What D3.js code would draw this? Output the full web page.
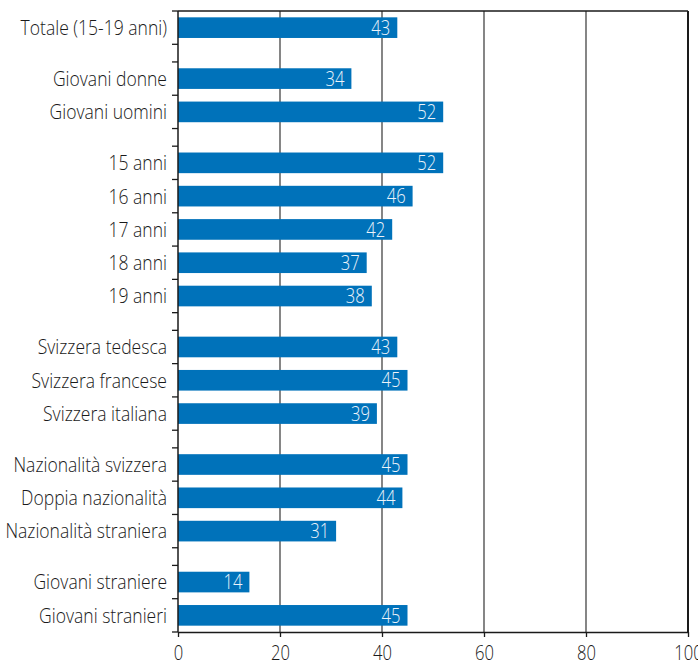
<!DOCTYPE html>
<html>
<head>
<meta charset="utf-8">
<script src="https://cdn.jsdelivr.net/npm/d3@7"></script>
<style>
  html, body { margin: 0; padding: 0; background: #fff; }
  svg { display: block; }
  text { font-family: "Open Sans", "Noto Sans", sans-serif; font-weight: 300; }
</style>
</head>
<body>
<svg id="chart" width="698" height="661"></svg>
<script>
// Categories in drawing order; empty strings are the spacer rows between groups
const categories = [
  "Totale (15-19 anni)", "",
  "Giovani donne", "Giovani uomini", "",
  "15 anni", "16 anni", "17 anni", "18 anni", "19 anni", "",
  "Svizzera tedesca", "Svizzera francese", "Svizzera italiana", "",
  "Nazionalità svizzera", "Doppia nazionalità", "Nazionalità straniera", "",
  "Giovani straniere", "Giovani stranieri"
];
const values = [
  43, null,
  34, 52, null,
  52, 46, 42, 37, 38, null,
  43, 45, 39, null,
  45, 44, 31, null,
  14, 45
];
const xTicks = [0, 20, 40, 60, 80, 100];

const margin = { top: 11, right: 10, bottom: 29, left: 178 };
const width = 698 - margin.left - margin.right;
const height = 661 - margin.top - margin.bottom;

// Narrow type: glyphs are drawn at full height and squeezed horizontally
const squeezeNum = 0.83;
const squeezeCat = 0.855;

const svg = d3.select("#chart");
const g = svg.append("g").attr("transform", `translate(${margin.left},${margin.top})`);

// Spacer rows take a bit over half the height of a data row
const spacerUnits = 0.53;
const rowUnits = categories.map(c => c === "" ? spacerUnits : 1);
const starts = [];
let acc = 0;
rowUnits.forEach(u => { starts.push(acc); acc += u; });
const y = d3.scaleLinear().domain([0, acc]).range([0, height]);

const x = d3.scaleLinear().domain([0, 100]).range([0, width]);

const rows = categories.map((c, i) => ({
  cat: c, value: values[i],
  top: y(starts[i]), bottom: y(starts[i] + rowUnits[i])
}));
const mid = d => (d.top + d.bottom) / 2;

// Vertical grid lines
g.append("g").selectAll("line")
  .data(xTicks.filter(t => t > 0 && t < 100))
  .join("line")
  .attr("x1", d => x(d)).attr("x2", d => x(d))
  .attr("y1", 0).attr("y2", height)
  .attr("stroke", "#444").attr("stroke-width", 1.3);

// Frame: top and right edges
g.append("line").attr("x1", 0).attr("x2", width).attr("y1", 0).attr("y2", 0)
  .attr("stroke", "#1a1a1a").attr("stroke-width", 1.5);
g.append("line").attr("x1", width).attr("x2", width).attr("y1", 0).attr("y2", height)
  .attr("stroke", "#1a1a1a").attr("stroke-width", 2);

const barFrac = 0.62;
const data = rows.filter(r => r.value != null);

g.append("g").selectAll("rect")
  .data(data)
  .join("rect")
  .attr("x", 0)
  .attr("y", d => mid(d) - (d.bottom - d.top) * barFrac / 2)
  .attr("width", d => x(d.value))
  .attr("height", d => (d.bottom - d.top) * barFrac)
  .attr("fill", "#0072ba");

// Value labels inside the bar ends
g.append("g").selectAll("text")
  .data(data)
  .join("text")
  .attr("transform", d => `translate(${x(d.value) - 7},${mid(d)}) scale(${squeezeNum},1)`)
  .attr("dy", "0.36em")
  .attr("text-anchor", "end")
  .attr("fill", "#eef4fa")
  .style("font-size", "20px")
  .text(d => d.value);

// Category labels
g.append("g").selectAll("text")
  .data(data)
  .join("text")
  .attr("transform", d => `translate(-11,${mid(d)}) scale(${squeezeCat},1)`)
  .attr("dy", "0.36em")
  .attr("text-anchor", "end")
  .attr("fill", "#1a1a1a")
  .style("font-size", "20.5px")
  .text(d => d.cat);

// Left axis with ticks at every row boundary
const boundaries = [0, ...rows.map(r => r.bottom)];
g.append("line").attr("x1", 0).attr("x2", 0).attr("y1", 0).attr("y2", height)
  .attr("stroke", "#1a1a1a").attr("stroke-width", 1.5);
g.append("g").selectAll("line")
  .data(boundaries)
  .join("line")
  .attr("x1", -6).attr("x2", 0)
  .attr("y1", d => d).attr("y2", d => d)
  .attr("stroke", "#1a1a1a").attr("stroke-width", 1.3);

// Bottom axis
const xAxis = g.append("g")
  .attr("transform", `translate(0,${height})`)
  .call(d3.axisBottom(x).tickValues(xTicks).tickSize(5).tickSizeOuter(0).tickPadding(0));
xAxis.select(".domain").attr("stroke", "#1a1a1a").attr("stroke-width", 1.5);
xAxis.selectAll(".tick line").attr("stroke", "#1a1a1a").attr("stroke-width", 1.3);
xAxis.selectAll(".tick text")
  .attr("y", 0)
  .attr("dy", 0)
  .attr("transform", `translate(0,28) scale(${squeezeNum},1)`)
  .attr("fill", "#1a1a1a")
  .style("font-size", "20px")
  .style("font-family", "\"Open Sans\", \"Noto Sans\", sans-serif")
  .style("font-weight", 300);
</script>
</body>
</html>
